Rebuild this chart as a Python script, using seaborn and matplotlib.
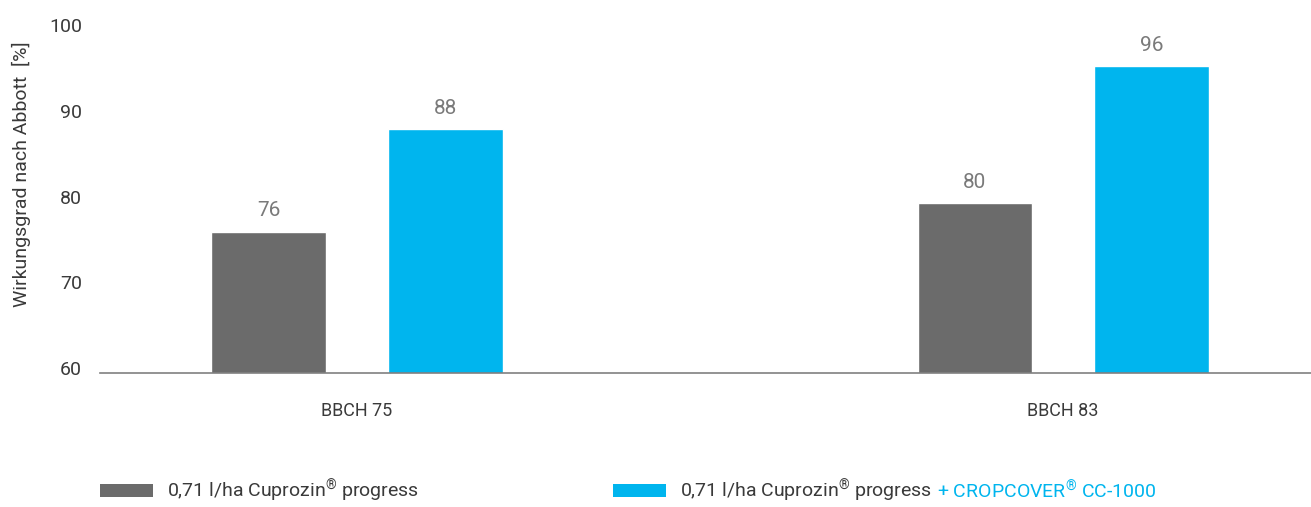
import matplotlib
matplotlib.use("Agg")
import matplotlib.pyplot as plt
import seaborn as sns
import pandas as pd
from matplotlib.patches import Patch

categories = ["BBCH 75", "BBCH 83"]
series_names = ["0,71 l/ha Cuprozin$^{®}$ progress",
                "0,71 l/ha Cuprozin$^{®}$ progress + CROPCOVER$^{®}$ CC-1000"]
grey_values = [75.9, 79.2]
blue_values = [87.9, 95.3]
grey_labels = ["76", "80"]
blue_labels = ["88", "96"]
y_ticks = [60, 70, 80, 90, 100]

GREY = "#6b6b6b"
BLUE = "#00b5ee"
TEXT = "#3a3a3a"

df = pd.DataFrame({
    "cat": categories * 2,
    "series": [series_names[0]] * 2 + [series_names[1]] * 2,
    "val": grey_values + blue_values,
})

sns.set_theme(style="white")
plt.rcParams["font.family"] = ["Roboto", "DejaVu Sans"]
plt.rcParams["mathtext.fontset"] = "custom"
plt.rcParams["mathtext.rm"] = "Roboto"
plt.rcParams["mathtext.it"] = "Roboto"
plt.rcParams["mathtext.bf"] = "Roboto"
plt.rcParams["mathtext.default"] = "regular"

fig = plt.figure(figsize=(13.11, 5.07), dpi=100)
ax = fig.add_axes([100 / 1311, 1 - 373 / 507, 1211 / 1311, 373 / 507])

sns.barplot(data=df, x="cat", y="val", hue="series", hue_order=series_names,
            order=categories, palette=[GREY, BLUE], width=0.5, gap=0.35,
            ax=ax, legend=False, saturation=1)

ax.set_xlim(-0.364, 1.351)
ax.set_ylim(59.36, 102.98)
ax.set_yticks(y_ticks)
ax.set_yticklabels([str(t) for t in y_ticks])
ax.set_xlabel("")
ax.set_ylabel("Wirkungsgrad nach Abbott  [%]", fontsize=14, color=TEXT)
ax.yaxis.set_label_coords(-0.057, 0.533)

for s in ["top", "right", "left"]:
    ax.spines[s].set_visible(False)
ax.spines["bottom"].set_color("#808080")
ax.spines["bottom"].set_linewidth(1.2)
ax.grid(False)

ax.tick_params(axis="y", length=0, pad=13, labelsize=14, labelcolor=TEXT)
ax.tick_params(axis="x", length=0, pad=21, labelsize=13, labelcolor=TEXT)

for cont, labs in zip(ax.containers, [grey_labels, blue_labels]):
    ax.bar_label(cont, labels=labs, padding=8, fontsize=15, color="#7a7a7a")

# Legend
leg1 = fig.legend(handles=[Patch(facecolor=GREY, edgecolor="none")], labels=[series_names[0]],
                  loc="center left", bbox_to_anchor=(100 / 1311, 1 - 491 / 507),
                  frameon=False, fontsize=14, handlelength=2.7, handleheight=0.7,
                  handletextpad=0.75, borderpad=0, borderaxespad=0, labelcolor=TEXT)
leg2 = fig.legend(handles=[Patch(facecolor=BLUE, edgecolor="none")], labels=[series_names[0]],
                  loc="center left", bbox_to_anchor=(613 / 1311, 1 - 491 / 507),
                  frameon=False, fontsize=14, handlelength=2.7, handleheight=0.7,
                  handletextpad=0.75, borderpad=0, borderaxespad=0, labelcolor=TEXT)

fig.canvas.draw()
renderer = fig.canvas.get_renderer()
t = leg2.get_texts()[0]
bb = t.get_window_extent(renderer)
x_end = bb.x1 / fig.bbox.width
y_mid = (bb.y0 + bb.y1) / 2 / fig.bbox.height
fig.text(x_end + 5 / 1311, y_mid, "+ CROPCOVER$^{®}$ CC-1000", color=BLUE, fontsize=14,
         ha="left", va="center")

fig.savefig("out.png", dpi=100)
